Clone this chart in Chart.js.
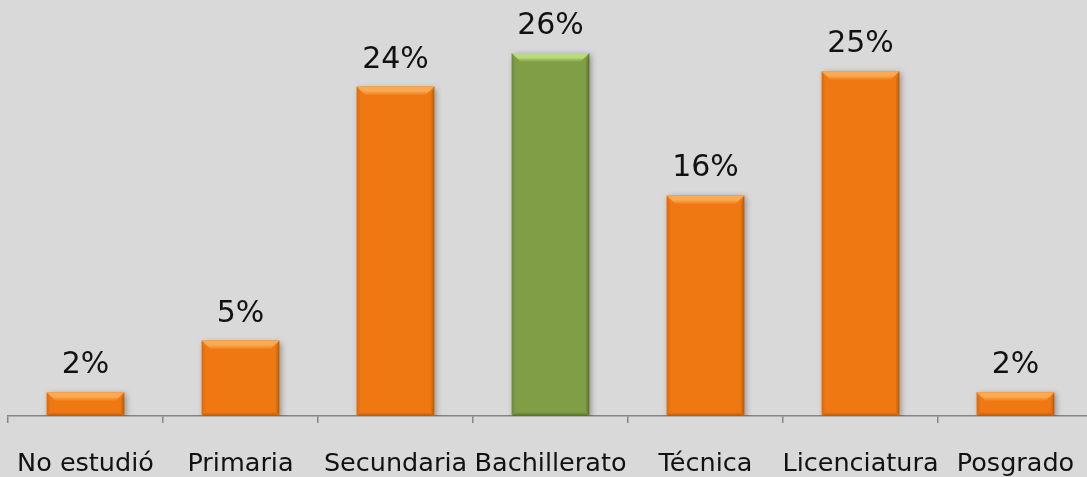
<!DOCTYPE html>
<html><head><meta charset="utf-8">
<script src="https://cdn.jsdelivr.net/npm/chart.js@4/dist/chart.umd.min.js"></script>
<style>
html,body{margin:0;padding:0;background:#d9d9d9;overflow:hidden;width:1087px;height:477px;}
#wrap{position:absolute;left:0;top:0;width:1100px;height:477px;}
</style></head>
<body>
<div id="wrap"><canvas id="c" width="1100" height="477"></canvas></div>
<script>
const categories = ["No estudió","Primaria","Secundaria","Bachillerato","Técnica","Licenciatura","Posgrado"];
const values = [1.7, 5.4, 23.6, 26.0, 15.8, 24.7, 1.7];
const valueLabels = ["2%","5%","24%","26%","16%","25%","2%"];
const highlightIndex = 3;

const ORANGE = {base:"#f07812", light:"#f9aa52", dark:"#b85a08", side:"#d86a0c"};
const GREEN = {base:"#7f9e45", light:"#bcda7a", dark:"#55702a", side:"#6c8a38"};

const bevelPlugin = {
  id:'bevel',
  afterDatasetsDraw(chart){
    const ctx = chart.ctx;
    const meta = chart.getDatasetMeta(0);
    meta.data.forEach((bar,i)=>{
      const c = i===highlightIndex?GREEN:ORANGE;
      const w = bar.width, l = bar.x - w/2, r = bar.x + w/2, t = bar.y, b = bar.base;
      const h = b - t;
      const tb = Math.min(9, h/2.5), sb = Math.min(4, h/4);
      ctx.save();
      let g = ctx.createLinearGradient(0,t,0,t+tb);
      g.addColorStop(0,c.light); g.addColorStop(0.5,c.light); g.addColorStop(1,c.base);
      ctx.fillStyle = g;
      ctx.beginPath(); ctx.moveTo(l,t); ctx.lineTo(r,t); ctx.lineTo(r-tb,t+tb); ctx.lineTo(l+tb,t+tb); ctx.closePath(); ctx.fill();
      g = ctx.createLinearGradient(l,0,l+sb,0);
      g.addColorStop(0,c.side); g.addColorStop(1,c.base);
      ctx.fillStyle = g;
      ctx.beginPath(); ctx.moveTo(l,t); ctx.lineTo(l+sb,t+tb); ctx.lineTo(l+sb,b-sb); ctx.lineTo(l,b); ctx.closePath(); ctx.fill();
      g = ctx.createLinearGradient(r,0,r-sb,0);
      g.addColorStop(0,c.dark); g.addColorStop(1,c.base);
      ctx.fillStyle = g;
      ctx.beginPath(); ctx.moveTo(r,t); ctx.lineTo(r-sb,t+tb); ctx.lineTo(r-sb,b-sb); ctx.lineTo(r,b); ctx.closePath(); ctx.fill();
      g = ctx.createLinearGradient(0,b,0,b-sb);
      g.addColorStop(0,c.dark); g.addColorStop(1,c.base);
      ctx.fillStyle = g;
      ctx.beginPath(); ctx.moveTo(l,b); ctx.lineTo(r,b); ctx.lineTo(r-sb,b-sb); ctx.lineTo(l+sb,b-sb); ctx.closePath(); ctx.fill();
      ctx.restore();
      ctx.save();
      ctx.fillStyle = "#111";
      ctx.font = "30px 'DejaVu Sans'";
      ctx.textAlign = "center";
      ctx.textBaseline = "alphabetic";
      ctx.fillText(valueLabels[i], bar.x, t - 19);
      ctx.restore();
    });
  }
};

const shadowPlugin = {
  id:'shadow',
  beforeDatasetsDraw(chart){
    const ctx = chart.ctx;
    ctx.save();
    ctx.shadowColor = "rgba(0,0,0,0.35)";
    ctx.shadowBlur = 6;
    ctx.shadowOffsetX = 2;
    ctx.shadowOffsetY = 2;
  },
  afterDatasetsDraw(chart){ chart.ctx.restore(); }
};

new Chart(document.getElementById('c'), {
  type:'bar',
  data:{
    labels:categories,
    datasets:[{
      data:values,
      backgroundColor: values.map((v,i)=> i===highlightIndex?GREEN.base:ORANGE.base),
      borderWidth:0,
      barPercentage:0.5,
      categoryPercentage:1.0
    }]
  },
  options:{
    responsive:false,
    animation:false,
    layout:{padding:{left:8,right:7,top:0,bottom:0}},
    plugins:{legend:{display:false},tooltip:{enabled:false}},
    scales:{
      y:{display:false,min:0,max:29.8},
      x:{
        grid:{display:true,offset:true,drawOnChartArea:false,tickLength:7,color:"#868686",lineWidth:1.5},
        border:{display:true,color:"#868686",width:1.5},
        ticks:{color:"#111",font:{family:"DejaVu Sans",size:25.5},padding:26,maxRotation:0,autoSkip:false},
        afterFit(s){ s.height = 61; s.paddingLeft = 0; s.paddingRight = 0; }
      }
    }
  },
  plugins:[shadowPlugin, bevelPlugin]
});
</script>
</body></html>
